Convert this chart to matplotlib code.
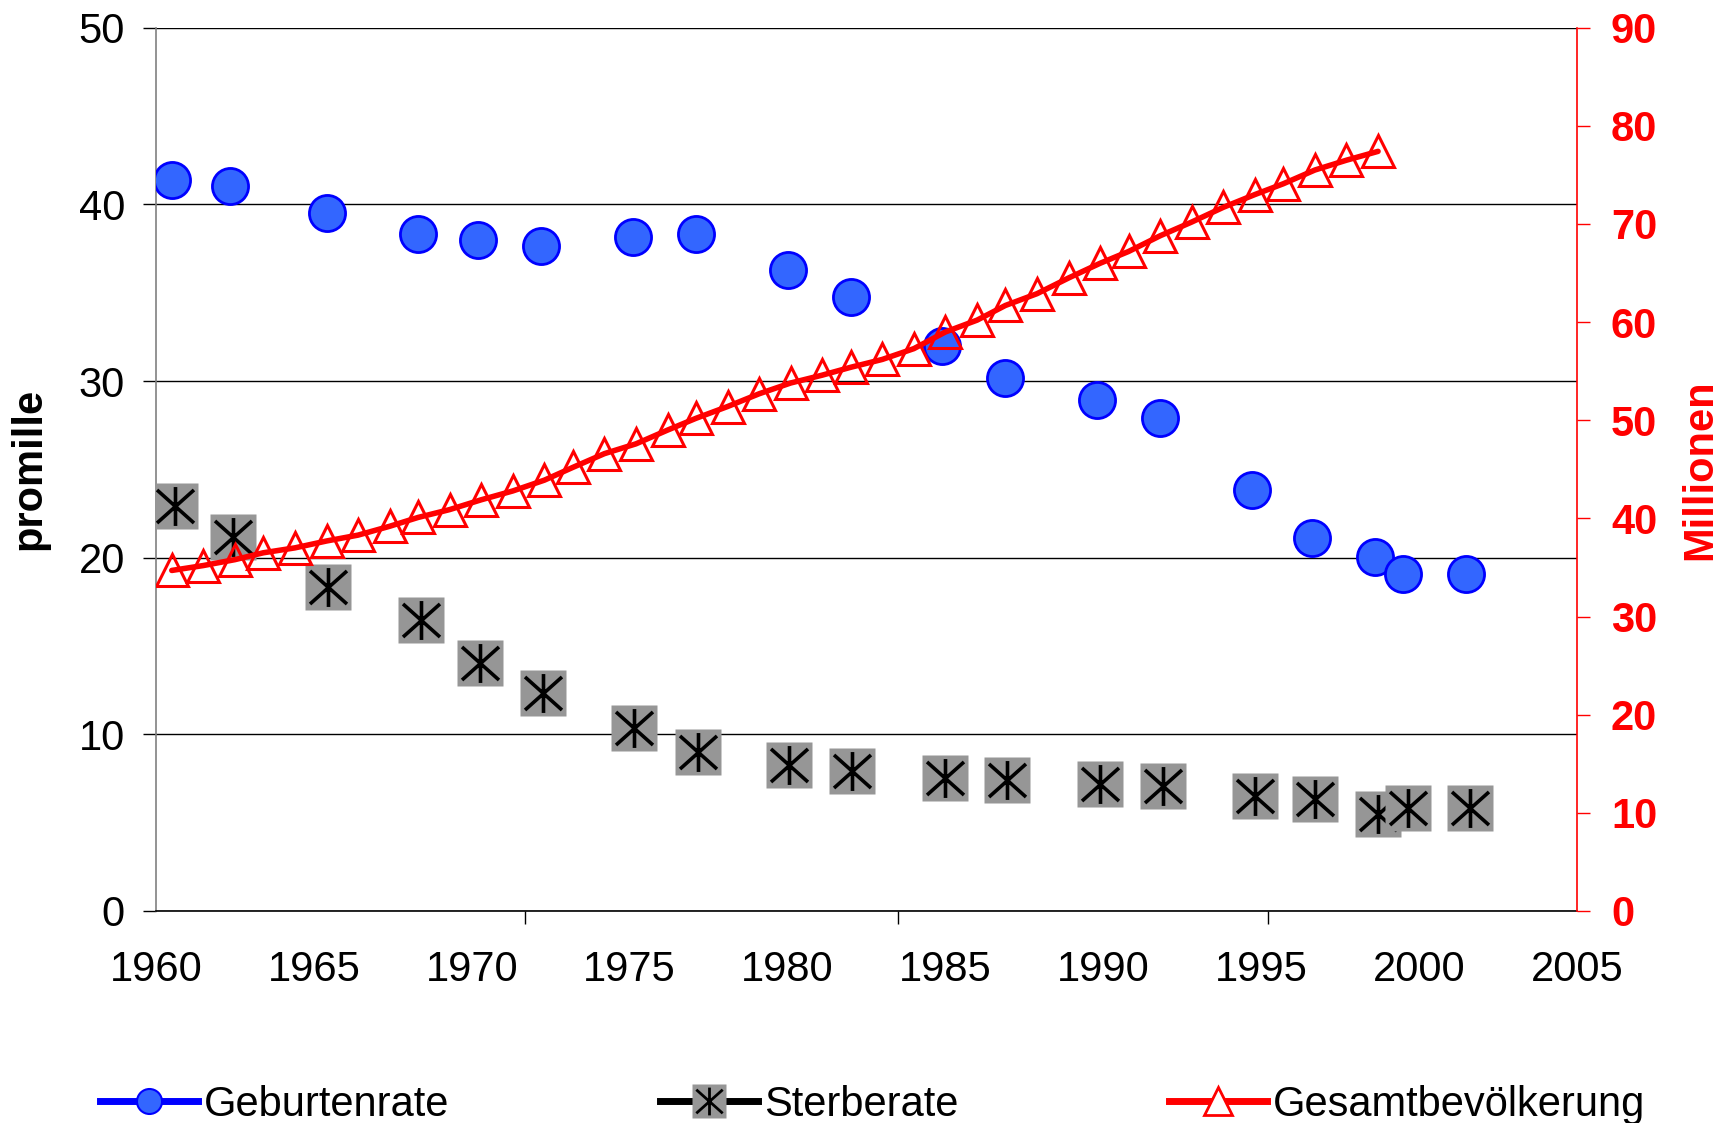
import matplotlib.pyplot as plt
from matplotlib.lines import Line2D
from matplotlib.path import Path

plt.rcParams['font.family'] = ['Liberation Sans', 'DejaVu Sans']

# Geburtenrate (promille)
birth_years = [1960.5, 1962.35, 1965.4, 1968.3, 1970.2, 1972.2, 1975.1, 1977.1, 1980.0, 1982.0,
               1984.9, 1986.9, 1989.8, 1991.8, 1994.7, 1996.6, 1998.6, 1999.5, 2001.5]
birth_rate = [41.4, 41.05, 39.5, 38.3, 38.0, 37.65, 38.15, 38.3, 36.3, 34.75,
              32.0, 30.15, 28.9, 27.9, 23.85, 21.1, 20.05, 19.1, 19.1]

# Sterberate (promille)
death_years = [1960.6, 1962.45, 1965.45, 1968.4, 1970.25, 1972.25, 1975.15, 1977.15, 1980.05, 1982.05,
               1985.0, 1986.95, 1989.9, 1991.9, 1994.8, 1996.7, 1998.7, 1999.65, 2001.6]
death_rate = [22.95, 21.15, 18.35, 16.45, 14.05, 12.35, 10.35, 9.0, 8.25, 7.95,
              7.55, 7.4, 7.2, 7.05, 6.5, 6.35, 5.5, 5.85, 5.85]

# Gesamtbevoelkerung (Millionen)
pop_years = [1960.5, 1961.5, 1962.5, 1963.4, 1964.4, 1965.4, 1966.4, 1967.4, 1968.3, 1969.3,
             1970.3, 1971.3, 1972.3, 1973.2, 1974.2, 1975.2, 1976.2, 1977.1, 1978.1, 1979.1,
             1980.1, 1981.1, 1982.0, 1983.0, 1984.0, 1985.0, 1986.0, 1986.9, 1987.9, 1988.9,
             1989.9, 1990.8, 1991.8, 1992.8, 1993.8, 1994.8, 1995.7, 1996.7, 1997.7, 1998.7]
pop = [34.7, 35.2, 35.8, 36.5, 37.0, 37.7, 38.3, 39.2, 40.1, 40.9,
       41.9, 42.8, 43.9, 45.2, 46.6, 47.6, 49.0, 50.2, 51.4, 52.7,
       53.8, 54.6, 55.4, 56.2, 57.3, 59.0, 60.2, 61.7, 62.9, 64.5,
       66.0, 67.2, 68.8, 70.2, 71.7, 73.0, 74.1, 75.5, 76.5, 77.4]

xticks = list(range(1960, 2006, 5))
xminor = [1960, 1971.7, 1983.5, 1995.2]

BLUE_FILL = '#3366FF'
BLUE_EDGE = '#0000FF'
GREY = '#969696'
RED = '#FF0000'
FS = 30

star = Path([(0, -1), (0, 1), (-0.95, -0.85), (0.95, 0.85), (-0.95, 0.85), (0.95, -0.85)],
            [Path.MOVETO, Path.LINETO] * 3)

fig = plt.figure(figsize=(17.18, 11.23), dpi=100, facecolor='w')
ax = fig.add_axes([156 / 1718, 1 - 911 / 1123, (1577 - 156) / 1718, (911 - 27.7) / 1123])

# gridlines
ax.set_ylim(0, 50)
ax.set_yticks(range(0, 51, 10))
ax.yaxis.grid(True, color='black', lw=1.0)
ax.set_axisbelow(True)

ax.plot(birth_years, birth_rate, ls='none', marker='o', ms=26,
        mfc=BLUE_FILL, mec=BLUE_EDGE, mew=2, zorder=3)

z = 3
for x, y in zip(death_years, death_rate):
    ax.plot([x], [y], ls='none', marker='s', ms=33, mfc=GREY, mec='none', zorder=z)
    ax.plot([x], [y], ls='none', marker=star, ms=28, mfc='none', mec='black', mew=2.6, zorder=z + 0.5)
    z += 1

ax.set_xlim(1960, 2005)
ax.set_xticks(xticks)
ax.set_xticks(xminor, minor=True)
ax.tick_params(axis='x', which='major', length=0, pad=28, labelsize=FS)
ax.tick_params(axis='x', which='minor', length=9, width=1, color='black', direction='out')
ax.tick_params(axis='y', length=9.4, width=1, pad=13, labelsize=FS, direction='out')

for s in ['top', 'right']:
    ax.spines[s].set_visible(False)
ax.spines['left'].set_color('#808080')
ax.spines['left'].set_linewidth(1.2)
ax.spines['bottom'].set_color('black')
ax.spines['bottom'].set_linewidth(1.2)

ax.set_ylabel('promille', fontsize=FS, fontweight='bold')
ax.yaxis.set_label_coords(-0.0753, 0.5)

ax2 = ax.twinx()
ax2.plot(pop_years, pop, color=RED, lw=4, solid_capstyle='round',
         marker='^', ms=23, mfc='none', mec=RED, mew=2.2)
ax2.set_ylim(0, 90)
ax2.set_yticks(range(0, 91, 10))
ax2.tick_params(axis='y', colors=RED, length=9.4, width=1, pad=15, labelsize=FS)
for lab in ax2.get_yticklabels():
    lab.set_fontweight('bold')
for s in ['top', 'left', 'bottom']:
    ax2.spines[s].set_visible(False)
ax2.spines['right'].set_color(RED)
ax2.spines['right'].set_linewidth(1.2)
ax2.set_ylabel('Millionen', fontsize=FS, fontweight='bold', color=RED, rotation=90)
ax2.yaxis.set_label_coords(1.073, 0.5)

h1 = Line2D([], [], color=BLUE_EDGE, lw=5, marker='o', ms=18,
            mfc=BLUE_FILL, mec=BLUE_EDGE, mew=1.5)
h2 = (Line2D([], [], color='black', lw=5, marker='s', ms=25, mfc=GREY, mec='none'),
      Line2D([], [], ls='none', marker=star, ms=20, mfc='none', mec='black', mew=2))
h3 = Line2D([], [], color=RED, lw=5, marker='^', ms=20, mfc='white', mec=RED, mew=2)

fig.legend([h1, h2, h3], ['Geburtenrate', 'Sterberate', 'Gesamtbevölkerung'],
           loc='center left', bbox_to_anchor=(100 / 1718, 1 - 1105 / 1123),
           ncol=3, frameon=False, fontsize=FS, borderpad=0, borderaxespad=0,
           handlelength=2.35, handletextpad=0.15, columnspacing=5.05)

fig.savefig('out.png', dpi=100)
